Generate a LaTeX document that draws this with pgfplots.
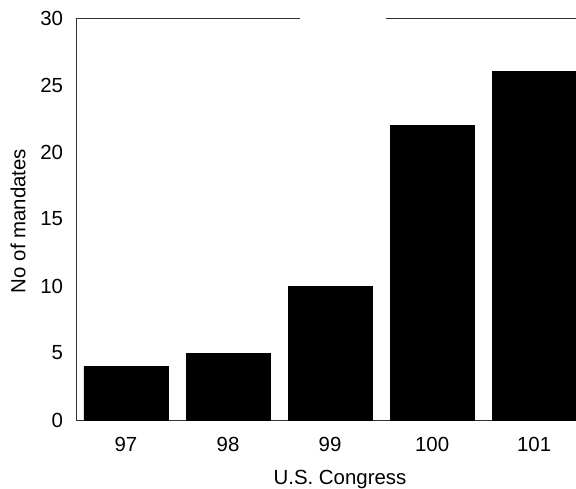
\documentclass[border=0pt]{standalone}
\usepackage{fontspec}
\setmainfont{Liberation Sans}
\usepackage{pgfplots}
\pgfplotsset{compat=1.18}
\begin{document}
\fontsize{20.5}{24}\selectfont
\begin{tikzpicture}
\begin{axis}[
  name=ax,
  scale only axis,
  width=500bp, height=402bp,
  xmin=-0.49, xmax=4.41,
  ymin=0, ymax=30,
  axis x line*=bottom,
  axis y line*=left,
  axis line style={black!80, line width=0.8pt},
  xtick={0,1,2,3,4},
  xticklabels={97,98,99,100,101},
  ytick={0,5,10,15,20,25,30},
  major tick length=0pt,
  /pgf/number format/assume math mode=true,
  tick label style={font=\fontsize{20.5}{24}\selectfont},
  xticklabel style={yshift=-10bp},
  yticklabel style={xshift=-6bp},
  xlabel={U.S.\ Congress},
  ylabel={No of mandates},
  label style={font=\fontsize{20.5}{24}\selectfont},
  xlabel style={yshift=-5bp, xshift=14bp},
  ylabel style={yshift=1bp, xshift=-2bp},
  clip=true,
]
\addplot[ybar, bar width=84bp, fill=black, draw=black] coordinates {
  (0,4) (1,5) (2,10) (3,22) (4,26)
};
\draw[black!80, line width=0.8pt] (rel axis cs:0,1) -- (rel axis cs:0.448,1);
\draw[black!80, line width=0.8pt] (rel axis cs:0.62,1) -- (rel axis cs:1,1);
\end{axis}
\pgfresetboundingbox
\useasboundingbox ([xshift=-76bp,yshift=-69bp]ax.south west) rectangle ([yshift=18bp]ax.north east);
\end{tikzpicture}
\end{document}
